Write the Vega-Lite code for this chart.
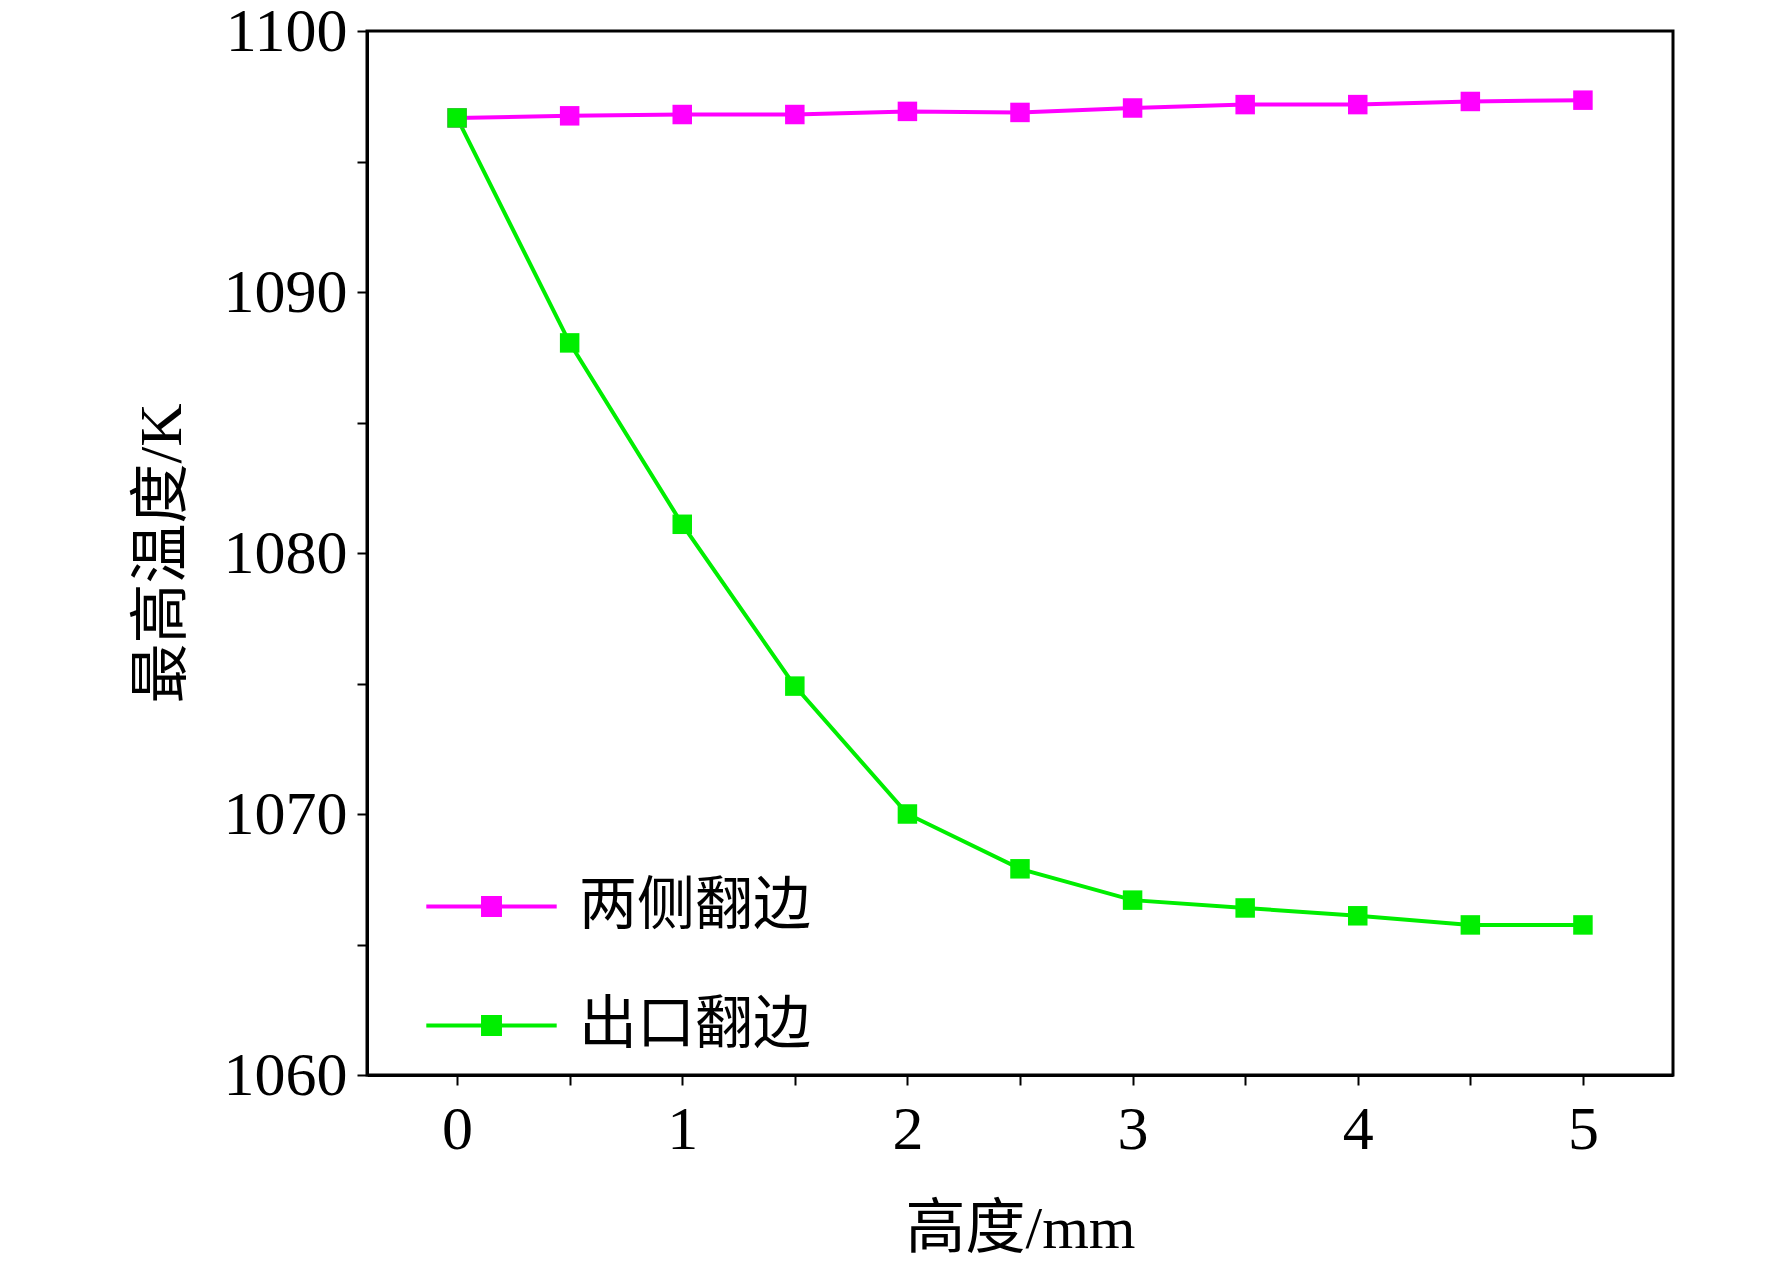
{
  "$schema": "https://vega.github.io/schema/vega-lite/v6.json",
  "width": 1306,
  "height": 1044,
  "autosize": "none",
  "padding": {"left": 367, "top": 31, "right": 99, "bottom": 203},
  "background": "white",
  "config": {
    "view": {"stroke": "black", "strokeWidth": 3},
    "font": "Liberation Serif"
  },
  "data": {
    "values": [
      {"h": 0, "t": 1096.67, "s": "两侧翻边"},
      {"h": 0.5, "t": 1096.75, "s": "两侧翻边"},
      {"h": 1, "t": 1096.8, "s": "两侧翻边"},
      {"h": 1.5, "t": 1096.8, "s": "两侧翻边"},
      {"h": 2, "t": 1096.92, "s": "两侧翻边"},
      {"h": 2.5, "t": 1096.88, "s": "两侧翻边"},
      {"h": 3, "t": 1097.05, "s": "两侧翻边"},
      {"h": 3.5, "t": 1097.18, "s": "两侧翻边"},
      {"h": 4, "t": 1097.18, "s": "两侧翻边"},
      {"h": 4.5, "t": 1097.3, "s": "两侧翻边"},
      {"h": 5, "t": 1097.35, "s": "两侧翻边"},
      {"h": 0, "t": 1096.67, "s": "出口翻边"},
      {"h": 0.5, "t": 1088.05, "s": "出口翻边"},
      {"h": 1, "t": 1081.1, "s": "出口翻边"},
      {"h": 1.5, "t": 1074.9, "s": "出口翻边"},
      {"h": 2, "t": 1070.0, "s": "出口翻边"},
      {"h": 2.5, "t": 1067.9, "s": "出口翻边"},
      {"h": 3, "t": 1066.7, "s": "出口翻边"},
      {"h": 3.5, "t": 1066.4, "s": "出口翻边"},
      {"h": 4, "t": 1066.1, "s": "出口翻边"},
      {"h": 4.5, "t": 1065.75, "s": "出口翻边"},
      {"h": 5, "t": 1065.75, "s": "出口翻边"}
    ]
  },
  "encoding": {
    "x": {
      "field": "h", "type": "quantitative",
      "scale": {"domain": [-0.4, 5.4], "nice": false, "zero": false},
      "axis": {
        "title": "高度/mm", "titleFont": "Liberation Serif, Noto Sans CJK SC", "titleFontSize": 60, "titleFontWeight": "normal", "titleColor": "black", "titlePadding": 40,
        "values": [0, 0.5, 1, 1.5, 2, 2.5, 3, 3.5, 4, 4.5, 5],
        "labelExpr": "datum.value % 1 == 0 ? format(datum.value, 'd') : ''",
        "labelFontSize": 62, "labelColor": "black", "labelPadding": 14,
        "grid": false, "domainColor": "black", "domainWidth": 3, "tickColor": "black", "tickWidth": 2, "tickSize": 10
      }
    },
    "y": {
      "field": "t", "type": "quantitative",
      "scale": {"domain": [1060, 1100], "nice": false, "zero": false},
      "axis": {
        "title": "最高温度/K", "titleFont": "Liberation Serif, Noto Sans CJK SC", "titleFontSize": 60, "titleFontWeight": "normal", "titleColor": "black", "titlePadding": 30,
        "values": [1060, 1065, 1070, 1075, 1080, 1085, 1090, 1095, 1100],
        "labelExpr": "datum.value % 10 == 0 ? format(datum.value, 'd') : ''",
        "labelFontSize": 62, "labelColor": "black", "labelPadding": 10,
        "grid": false, "domainColor": "black", "domainWidth": 3, "tickColor": "black", "tickWidth": 2, "tickSize": 10
      }
    },
    "color": {
      "field": "s", "type": "nominal",
      "scale": {"domain": ["两侧翻边", "出口翻边"], "range": ["#ff00ff", "#00ee00"]},
      "legend": {
        "title": null, "orient": "none", "legendX": 57, "legendY": 808,
        "symbolType": "M-1,0H1M-0.13,-0.13H0.13V0.13H-0.13Z",
        "symbolSize": 17000, "symbolStrokeWidth": 4,
        "labelFont": "Noto Sans CJK SC", "labelFontSize": 58, "labelColor": "black", "labelLimit": 0,
        "labelOffset": 20, "rowPadding": 22
      }
    }
  },
  "layer": [
    {"mark": {"type": "line", "strokeWidth": 4}},
    {"mark": {"type": "point", "shape": "square", "filled": true, "size": 380, "opacity": 1}}
  ]
}
